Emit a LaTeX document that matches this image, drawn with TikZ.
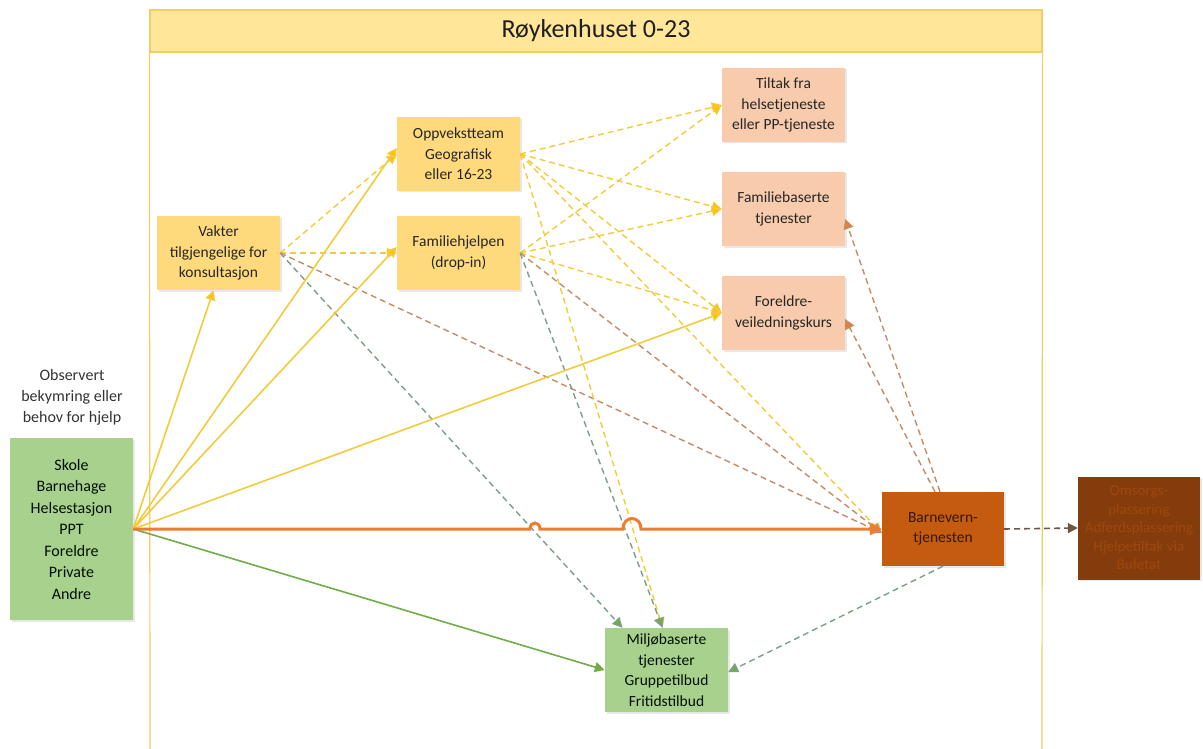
\documentclass[tikz,border=0pt]{standalone}
\usepackage{fontspec}
\setmainfont{Carlito}
\usepackage{tikz}
\usetikzlibrary{arrows.meta,positioning,shadows}
\definecolor{HeadFill}{HTML}{FFE699}
\definecolor{HeadLine}{HTML}{F2CE62}
\definecolor{BoxYellow}{HTML}{FFDA7D}
\definecolor{BoxSalmon}{HTML}{F8CBAD}
\definecolor{BoxGreen}{HTML}{A9D18E}
\definecolor{BoxOrange}{HTML}{C55A11}
\definecolor{BoxBrown}{HTML}{843C0C}
\definecolor{Gold}{HTML}{FFC000}
\definecolor{LineYellow}{HTML}{F3CB3A}
\definecolor{LineOrange}{HTML}{ED7D31}
\definecolor{LineGreen}{HTML}{70AD47}
\definecolor{DashGreen}{HTML}{7F9E86}
\definecolor{DashBrown}{HTML}{C28C68}
\definecolor{DashDark}{HTML}{6E5646}
\colorlet{TextGrey}{black!85}

\tikzset{
  box/.style={rectangle, minimum width=123pt, minimum height=74pt, align=center,
    inner sep=2pt, font=\fontsize{15.5}{20.5}\selectfont, text=TextGrey,
    drop shadow={opacity=0.18, shadow xshift=1.5pt, shadow yshift=-1.5pt}},
  ybox/.style={box, fill=BoxYellow},
  sbox/.style={box, fill=BoxSalmon},
  gbox/.style={box, fill=BoxGreen, text=black!85!green!40!black},
  tip/.style={-{Triangle[length=10pt,width=10pt,fill=#1]}},
  ysolid/.style={draw=LineYellow, line width=1.6pt, tip=Gold},
  ydash/.style={draw=LineYellow, line width=1.4pt, dash pattern=on 6pt off 4pt, tip=Gold},
  gdash/.style={draw=DashGreen, line width=1.4pt, dash pattern=on 6pt off 4pt, tip=LineGreen},
  bdash/.style={draw=DashBrown, line width=1.4pt, dash pattern=on 6pt off 4pt, tip=LineOrange},
}

\begin{document}
\begin{tikzpicture}[x=1pt, y=-1pt]
  \useasboundingbox (0,0) rectangle (1203,749);

  % frame and header
  \node[rectangle, draw=HeadLine, line width=1.2pt, fill=HeadFill, minimum width=892pt,
    minimum height=42pt, font=\fontsize{26}{28}\selectfont, text=black!88] (header) at (596,31) {Røykenhuset 0-23};
  \draw[HeadLine, line width=1.2pt] (header.south west) -- (150,749);
  \draw[HeadLine, line width=1.2pt] (header.south east) -- (1042,749);

  % source
  \node[gbox, minimum height=182pt, font=\fontsize{16}{21.5}\selectfont] (src) at (71.5,529)
    {Skole\\Barnehage\\Helsestasjon\\PPT\\Foreldre\\Private\\Andre};
  \node[align=center, font=\fontsize{16}{21}\selectfont, text=black!80] (obs) at (72,397)
    {Observert\\bekymring eller\\behov for hjelp};

  % yellow nodes
  \node[ybox] (vakter) at (218.5,253) {Vakter\\tilgjengelige for\\konsultasjon};
  \node[ybox] (oppv) at (458.5,154) {Oppvekstteam\\Geografisk\\eller 16-23};
  \node[ybox] (famhj) at (458.5,253) {Familiehjelpen\\(drop-in)};

  % salmon nodes
  \node[sbox] (tiltak) at (783.5,105) {Tiltak fra\\helsetjeneste\\eller PP-tjeneste};
  \node[sbox] (famb) at (783.5,209) {Familiebaserte\\tjenester};
  \node[sbox] (foreldre) at (783.5,313) {Foreldre-\\veiledningskurs};

  % barnevern, bufetat, miljo
  \node[box, fill=BoxOrange, minimum width=122pt, text=black!60!BoxBrown] (barnev) at (943,529) {Barnevern-\\tjenesten};
  \node[box, fill=BoxBrown, minimum width=122pt, minimum height=103pt, text=BoxOrange!80!black,
    font=\fontsize{15}{18.5}\selectfont] (omsorg) at (1139,528)
    {Omsorgs-\\plassering\\Adferdsplassering\\Hjelpetiltak via\\Bufetat};
  \node[gbox, minimum height=84pt] (miljo) at (666.5,670) {Miljøbaserte\\tjenester\\Gruppetilbud\\Fritidstilbud};

  % edges from vakter
  \draw[ydash] (vakter.east) -- (oppv.west);
  \draw[ydash] (vakter.east) -- (famhj.west);
  \draw[gdash] (vakter.east) -- ([xshift=-44pt]miljo.north);
  \draw[bdash] (vakter.east) -- ([yshift=-4pt]barnev.west);

  % edges from oppvekstteam
  \draw[ydash] (oppv.east) -- (tiltak.west);
  \draw[ydash] (oppv.east) -- (famb.west);
  \draw[ydash] (oppv.east) -- (foreldre.west);
  \draw[ydash] (oppv.east) -- ([yshift=-4pt]barnev.west);
  \draw[ydash] (oppv.east) -- ([xshift=-4pt]miljo.north);

  % edges from familiehjelpen
  \draw[ydash] (famhj.east) -- (tiltak.west);
  \draw[ydash] (famhj.east) -- (famb.west);
  \draw[ydash] (famhj.east) -- (foreldre.west);
  \draw[bdash] (famhj.east) -- ([yshift=-4pt]barnev.west);
  \draw[gdash] (famhj.east) -- ([xshift=-4pt]miljo.north);

  % edges from source
  \draw[ysolid] (src.east) -- ([xshift=-5pt]vakter.south);
  \draw[ysolid] (src.east) -- ([yshift=6pt]oppv.west);
  \draw[ysolid] (src.east) -- ([yshift=6pt]famhj.west);
  \draw[ysolid] (src.east) -- (foreldre.west);
  \draw[LineGreen, line width=1.6pt, tip=LineGreen] (src.east) -- (miljo.west);
  \draw[LineOrange, line width=3pt, -{Triangle[length=12pt,width=12pt]}] (src.east)
    -- (530,529) .. controls (530,521) and (540,521) .. (540,529)
    -- (623,529) .. controls (623,515) and (641,515) .. (641,529) -- (barnev.west);

  % edges from barnevern
  \draw[bdash] ([xshift=-3pt]barnev.north) -- ([yshift=-10pt]famb.east);
  \draw[bdash] ([xshift=-8pt]barnev.north) -- ([yshift=-6pt]foreldre.east);
  \draw[gdash] (barnev.south) -- ([yshift=-2pt]miljo.east);
  \draw[draw=DashDark, line width=1.6pt, dash pattern=on 6pt off 4pt, tip=DashDark] (barnev.east) -- (omsorg.west);
\end{tikzpicture}
\end{document}
